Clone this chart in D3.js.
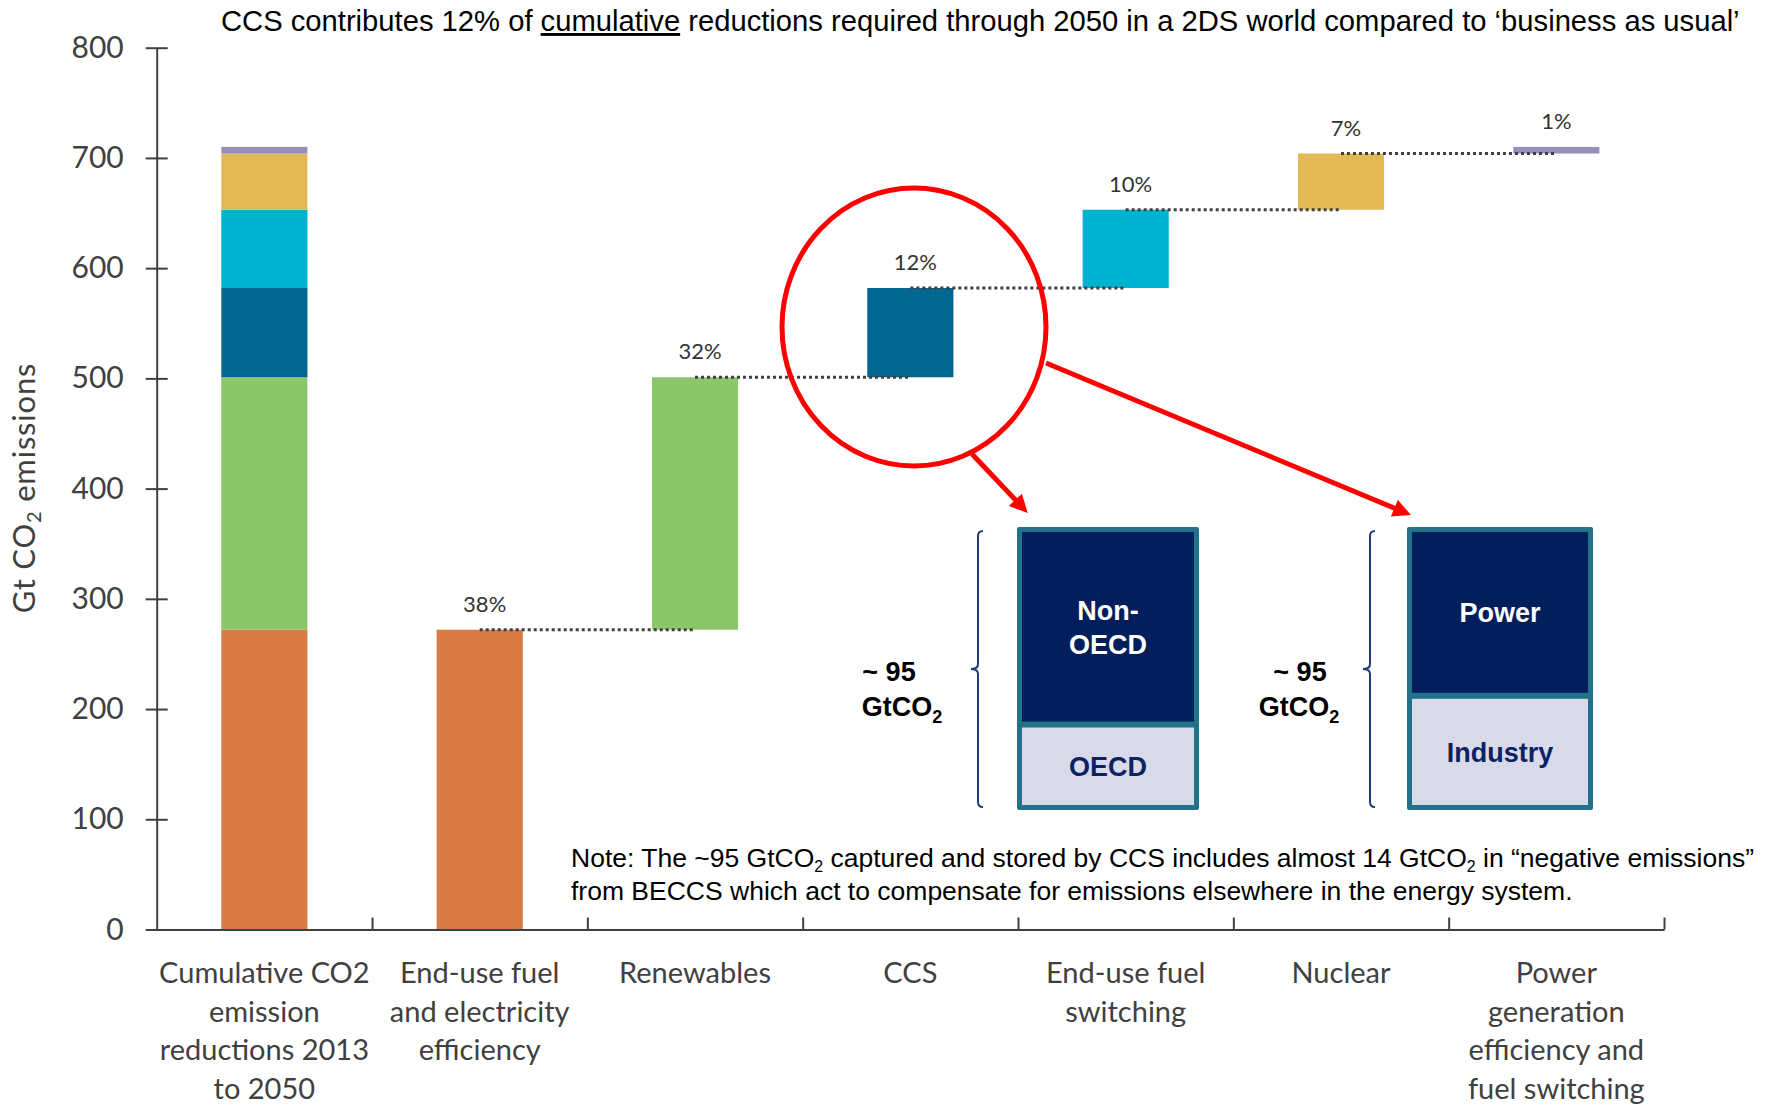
<!DOCTYPE html>
<html>
<head>
<meta charset="utf-8">
<script src="https://cdn.jsdelivr.net/npm/d3@7"></script>
<style>
  body { margin: 0; background: #fff; }
  svg { display: block; }
</style>
</head>
<body>
<div id="chart"></div>
<script>
// waterfall data (Gt CO2)
var categories = [
  ["Cumulative CO2", "emission", "reductions 2013", "to 2050"],
  ["End-use fuel", "and electricity", "efficiency"],
  ["Renewables"],
  ["CCS"],
  ["End-use fuel", "switching"],
  ["Nuclear"],
  ["Power", "generation", "efficiency and", "fuel switching"]
];
var measures = ["Efficiency", "Renewables", "CCS", "Fuel switching", "Nuclear", "Power generation"];
var reductions = [272, 229, 81, 71, 51, 6];
var shares = ["38%", "32%", "12%", "10%", "7%", "1%"];
var colors = ["#D97B45", "#8CC66A", "#006890", "#00B2D1", "#E3B955", "#958FBC"];
var yTicks = [0, 100, 200, 300, 400, 500, 600, 700, 800];

// CCS breakdown boxes (~95 Gt)
var ccsRegions = ["OECD", "Non-OECD"];
var ccsRegionValues = [28, 67];
var ccsSectors = ["Industry", "Power"];
var ccsSectorValues = [38, 57];

var width = 1773, height = 1106;
var calibri = "Lato, 'Open Sans', sans-serif";
var arial = "'Liberation Sans', Arial, sans-serif";
var axisColor = "#404040";

var svg = d3.select("#chart").append("svg")
  .attr("width", width)
  .attr("height", height);

var ends = d3.cumsum(reductions);
var starts = ends.map(function(e, i) { return e - reductions[i]; });

var y = d3.scaleLinear().domain([0, 800]).range([929.5, 47.7]);
var xb = d3.scaleLinear().domain([0, 7]).range([156.7, 1664]);
var x = d3.scaleBand().domain(d3.range(7)).range([156.7, 1664])
  .paddingInner(0.6).paddingOuter(0.3);

// stacked total bar
svg.append("g").selectAll("rect")
  .data(reductions)
  .enter().append("rect")
    .attr("x", x(0))
    .attr("width", x.bandwidth())
    .attr("y", function(d, i) { return y(ends[i]); })
    .attr("height", function(d, i) { return y(starts[i]) - y(ends[i]); })
    .attr("fill", function(d, i) { return colors[i]; });

// floating bars
svg.append("g").selectAll("rect")
  .data(reductions)
  .enter().append("rect")
    .attr("x", function(d, i) { return x(i + 1); })
    .attr("width", x.bandwidth())
    .attr("y", function(d, i) { return y(ends[i]); })
    .attr("height", function(d, i) { return y(starts[i]) - y(ends[i]); })
    .attr("fill", function(d, i) { return colors[i]; });

// dotted connectors, centre to centre (none after the last bar)
svg.append("g").selectAll("line")
  .data(reductions.slice(0, -1))
  .enter().append("line")
    .attr("x1", function(d, i) { return x(i + 1) + x.bandwidth() / 2; })
    .attr("x2", function(d, i) { return x(i + 2) + x.bandwidth() / 2; })
    .attr("y1", function(d, i) { return y(ends[i]); })
    .attr("y2", function(d, i) { return y(ends[i]); })
    .attr("stroke", axisColor)
    .attr("stroke-width", 3)
    .attr("stroke-dasharray", "3,3");

// share labels
svg.append("g").selectAll("text")
  .data(shares)
  .enter().append("text")
    .attr("x", function(d, i) { return x(i + 1) + x.bandwidth() / 2 + (i < 5 ? 5 : 0); })
    .attr("y", function(d, i) { return y(ends[i]) - 18; })
    .attr("text-anchor", "middle")
    .attr("font-family", calibri)
    .attr("font-size", 22)
    .attr("fill", "#333")
    .text(function(d) { return d; });

// y axis, ticks cross the line
var yAxis = svg.append("g")
  .attr("transform", "translate(" + xb(0) + ",0)")
  .call(d3.axisLeft(y).tickValues(yTicks).tickSizeInner(11).tickSizeOuter(0).tickPadding(22));
yAxis.selectAll(".tick line").attr("x1", 11).attr("x2", -11);
yAxis.selectAll("line, path").attr("stroke", axisColor).attr("stroke-width", 2);
yAxis.selectAll("text")
  .attr("font-family", calibri)
  .attr("font-size", 30)
  .attr("fill", axisColor);

// x axis, ticks at band edges
var xAxis = svg.append("g")
  .attr("transform", "translate(0," + y(0) + ")")
  .call(d3.axisBottom(xb).tickValues(d3.range(1, 8)).tickSize(-12).tickSizeOuter(0).tickFormat(""));
xAxis.selectAll("line, path").attr("stroke", axisColor).attr("stroke-width", 2);

// category labels
svg.append("g").selectAll("text")
  .data(categories)
  .enter().append("text")
    .attr("x", function(d, i) { return x(i) + x.bandwidth() / 2; })
    .attr("y", 983)
    .attr("text-anchor", "middle")
    .attr("font-family", calibri)
    .attr("font-size", 29)
    .attr("fill", axisColor)
    .each(function(lines) {
      var t = d3.select(this);
      lines.forEach(function(line, k) {
        t.append("tspan")
          .attr("x", t.attr("x"))
          .attr("dy", k === 0 ? 0 : 38.7)
          .text(line);
      });
    });

// y axis title
var yTitle = svg.append("text")
  .attr("transform", "translate(35,488) rotate(-90)")
  .attr("text-anchor", "middle")
  .attr("font-family", calibri)
  .attr("font-size", 31)
  .attr("letter-spacing", 0.8)
  .attr("fill", axisColor);
yTitle.append("tspan").text("Gt CO");
yTitle.append("tspan").attr("font-size", 20).attr("dy", 6).text("2");
yTitle.append("tspan").attr("dy", -6).text(" emissions");

// title
var title = svg.append("text")
  .attr("x", 221)
  .attr("y", 31)
  .attr("font-family", arial)
  .attr("font-size", 29.2)
  .attr("fill", "#000");
title.append("tspan").text("CCS contributes 12% of ");
title.append("tspan").attr("text-decoration", "underline").text("cumulative");
title.append("tspan").text(" reductions required through 2050 in a 2DS world compared to \u2018business as usual\u2019");

// note, with subscript 2s
function subText(sel, parts, size) {
  var shift = 0;
  parts.forEach(function(p) {
    if (p.sub) {
      sel.append("tspan").attr("font-size", size * 0.6).attr("dy", size * 0.18).text(p.sub);
      shift = -size * 0.18;
    } else {
      sel.append("tspan").attr("dy", shift).text(p.t);
      shift = 0;
    }
  });
}
var noteSize = 26.5;
var note1 = svg.append("text")
  .attr("x", 571).attr("y", 867)
  .attr("font-family", arial).attr("font-size", noteSize).attr("fill", "#000");
subText(note1, [{t: "Note: The ~95 GtCO"}, {sub: "2"},
  {t: " captured and stored by CCS includes almost 14 GtCO"}, {sub: "2"},
  {t: " in \u201cnegative emissions\u201d"}], noteSize);
svg.append("text")
  .attr("x", 571).attr("y", 900)
  .attr("font-family", arial).attr("font-size", noteSize).attr("fill", "#000")
  .text("from BECCS which act to compensate for emissions elsewhere in the energy system.");

// red ellipse and arrows
var defs = svg.append("defs");
defs.append("marker")
  .attr("id", "arrow")
  .attr("viewBox", "0 0 10 10")
  .attr("refX", 7).attr("refY", 5)
  .attr("markerUnits", "userSpaceOnUse")
  .attr("markerWidth", 20).attr("markerHeight", 18)
  .attr("orient", "auto")
  .append("path")
    .attr("d", "M0,0L10,5L0,10z")
    .attr("fill", "#FF0000");

svg.append("ellipse")
  .attr("cx", 914).attr("cy", 327)
  .attr("rx", 132).attr("ry", 139)
  .attr("fill", "none")
  .attr("stroke", "#FF0000")
  .attr("stroke-width", 5);

[[972, 454, 1024, 509], [1046, 363, 1406, 513]].forEach(function(a) {
  svg.append("line")
    .attr("x1", a[0]).attr("y1", a[1])
    .attr("x2", a[2]).attr("y2", a[3])
    .attr("stroke", "#FF0000")
    .attr("stroke-width", 5)
    .attr("marker-end", "url(#arrow)");
});

// breakdown boxes
var hb = d3.scaleLinear().domain([0, 95]).range([805, 532]);

function drawBox(x0, x1, names, values, bx, labelX) {
  var g = svg.append("g");
  g.append("rect")
    .attr("x", x0).attr("y", 527)
    .attr("width", x1 - x0).attr("height", 283)
    .attr("fill", "#21728A")
    .attr("rx", 2);
  var split = hb(values[0]);
  var parts = [
    {y0: split + 3, y1: hb(0), fill: "#D8DAE9", color: "#0D2263", name: names[0]},
    {y0: hb(95), y1: split - 3, fill: "#021E5B", color: "#fff", name: names[1]}
  ];
  parts.forEach(function(p) {
    g.append("rect")
      .attr("x", x0 + 5).attr("y", p.y0)
      .attr("width", x1 - x0 - 10).attr("height", p.y1 - p.y0)
      .attr("fill", p.fill);
    var lines = p.name === "Non-OECD" ? ["Non-", "OECD"] : [p.name];
    var mid = (p.y0 + p.y1) / 2 + 10 - (lines.length - 1) * 17;
    lines.forEach(function(l, k) {
      g.append("text")
        .attr("x", (x0 + x1) / 2)
        .attr("y", mid + k * 34)
        .attr("text-anchor", "middle")
        .attr("font-family", arial)
        .attr("font-weight", "bold")
        .attr("font-size", 27)
        .attr("fill", p.color)
        .text(l);
    });
  });

  // bracket
  g.append("path")
    .attr("d", "M" + (bx + 5) + ",531 Q" + bx + ",531 " + bx + ",536 L" + bx + ",664 Q" + bx + ",669 " + (bx - 7) +
      ",669 Q" + bx + ",669 " + bx + ",674 L" + bx + ",802 Q" + bx + ",807 " + (bx + 5) + ",807")
    .attr("fill", "none")
    .attr("stroke", "#1F3C7A")
    .attr("stroke-width", 2);

  g.append("text")
    .attr("x", labelX[0]).attr("y", 681)
    .attr("text-anchor", "middle")
    .attr("font-family", arial).attr("font-weight", "bold")
    .attr("font-size", 27).attr("fill", "#000")
    .text("~ 95");
  var gt = g.append("text")
    .attr("x", labelX[1]).attr("y", 716)
    .attr("text-anchor", "middle")
    .attr("font-family", arial).attr("font-weight", "bold")
    .attr("font-size", 27).attr("fill", "#000");
  gt.append("tspan").text("GtCO");
  gt.append("tspan").attr("font-size", 18).attr("dy", 7).text("2");
}

drawBox(1017, 1199, ccsRegions, ccsRegionValues, 978, [889, 902]);
drawBox(1407, 1593, ccsSectors, ccsSectorValues, 1370, [1300, 1299]);
</script>
</body>
</html>
